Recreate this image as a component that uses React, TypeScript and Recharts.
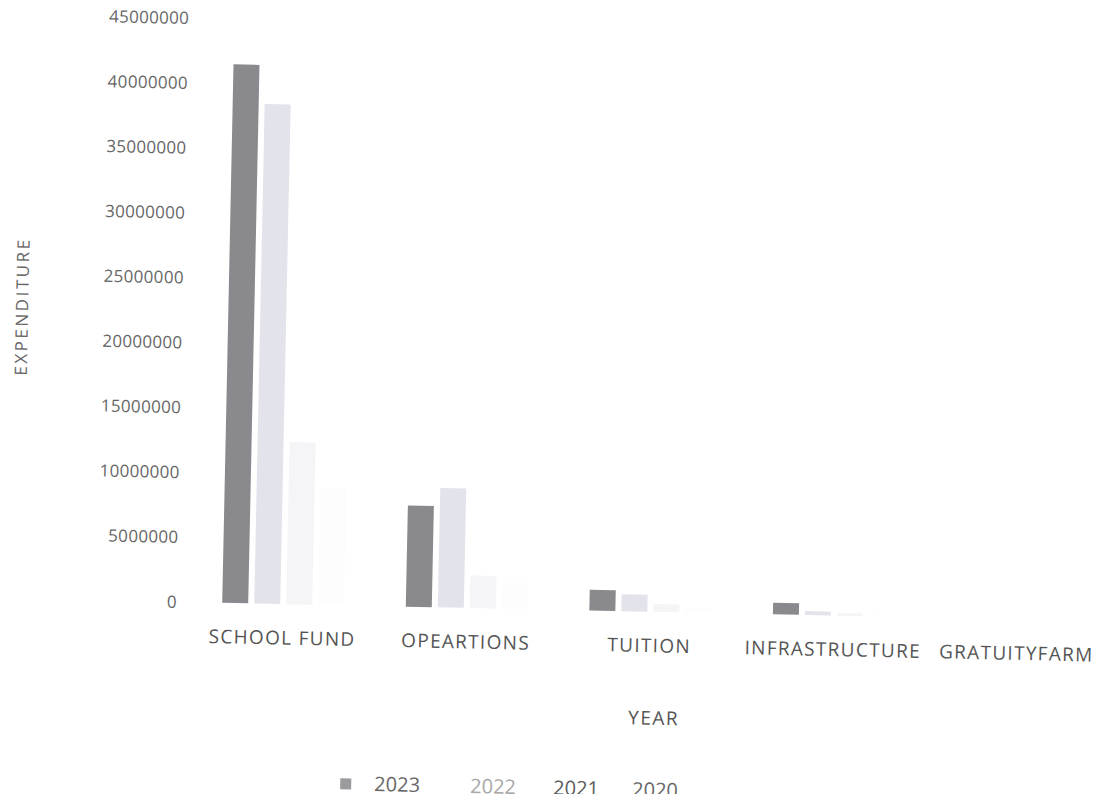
import React from "react";
import {
  BarChart,
  Bar,
  XAxis,
  YAxis,
  Label,
} from "recharts";

const categories = ["SCHOOL FUND", "OPEARTIONS", "TUITION", "INFRASTRUCTURE", "GRATUITYFARM"];
const years = ["2023", "2022", "2021", "2020"];

const y2023 = [41500000, 7800000, 1600000, 900000, 0];
const y2022 = [38500000, 9200000, 1300000, 300000, 0];
const y2021 = [12500000, 2500000, 600000, 200000, 0];
const y2020 = [9000000, 2000000, 400000, 100000, 0];

const yTicks = [0, 5000000, 10000000, 15000000, 20000000, 25000000, 30000000, 35000000, 40000000, 45000000];

// scanned copy: the lighter years have nearly washed out
const COLORS = ["#8a8a8e", "#e3e3eb", "#f5f5f8", "#fdfdfd"];
const LEGEND_TEXT = ["#666666", "#a8a8a8", "#5c5c5c", "#666666"];
// left edge of each legend label, the 2023 swatch sits before the first one
const LEGEND_X = [370, 466, 549, 628];

const data = categories.map((name, i) => ({
  name,
  "2023": y2023[i],
  "2022": y2022[i],
  "2021": y2021[i],
  "2020": y2020[i],
}));

const FONT = "'Open Sans', sans-serif";

function ChartLegend() {
  return (
    <div style={{ position: "absolute", left: 0, top: 763, height: 20, fontFamily: FONT, fontSize: 20, lineHeight: "20px" }}>
      <span
        style={{
          position: "absolute",
          left: LEGEND_X[0] - 34,
          top: 5,
          width: 11,
          height: 11,
          background: COLORS[0],
          opacity: 0.85,
        }}
      />
      {years.map((y, i) => (
        <span
          key={y}
          style={{ position: "absolute", left: LEGEND_X[i], top: 0, color: LEGEND_TEXT[i], whiteSpace: "nowrap" }}
        >
          {y}
        </span>
      ))}
    </div>
  );
}

export default function App() {
  return (
    <div
      style={{
        width: 1092,
        height: 802,
        marginTop: -8,
        marginBottom: -8,
        paddingTop: 8,
        boxSizing: "border-box",
        overflow: "hidden",
        background: "#fff",
      }}
    >
      <style>{".recharts-surface{overflow:visible}"}</style>
      <div
        style={{
          position: "relative",
          width: 1101,
          height: 786,
          transform: "rotate(1.2deg)",
          transformOrigin: "224px 595px",
        }}
      >
        <BarChart
          width={1101}
          height={786}
          data={data}
          margin={{ top: 11, right: 0, bottom: 30, left: 0 }}
          barCategoryGap="17%"
          barGap={6}
        >
          <XAxis
            dataKey="name"
            axisLine={false}
            tickLine={false}
            interval={0}
            tickMargin={21}
            tick={{ fill: "#555", fontSize: 19, fontFamily: FONT, letterSpacing: 1.3 }}
            height={161}
          >
            <Label
              value="YEAR"
              position="insideBottom"
              offset={48}
              dx={6}
              style={{ fill: "#555", fontSize: 19, fontFamily: FONT, letterSpacing: 1.5 }}
            />
          </XAxis>
          <YAxis
            width={183}
            domain={[0, 45000000]}
            ticks={yTicks}
            axisLine={false}
            tickLine={false}
            tickMargin={8}
            tick={{ fill: "#666", fontSize: 17, fontFamily: FONT, letterSpacing: 0.3 }}
          >
            <Label
              value="EXPENDITURE"
              angle={-90}
              position="insideLeft"
              offset={8}
              style={{ fill: "#666", fontSize: 17, fontFamily: FONT, letterSpacing: 2.5, textAnchor: "middle" }}
            />
          </YAxis>
          {years.map((y, i) => (
            <Bar key={y} dataKey={y} fill={COLORS[i]} isAnimationActive={false} />
          ))}
        </BarChart>
        <ChartLegend />
      </div>
    </div>
  );
}
